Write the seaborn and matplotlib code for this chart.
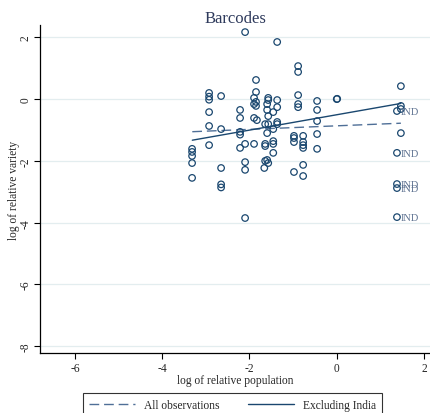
import matplotlib
matplotlib.use("Agg")
import matplotlib.pyplot as plt
import seaborn as sns
import pandas as pd

# ---- data ----
log_pop = [-2.10, -1.365, -0.885, -0.885, -1.85, -2.925,
           -2.925, -2.925, -2.65, -1.85, -1.895, -1.57,
           -1.57, -1.365, -0.885, -0.885, -0.885, -2.925,
           -2.215, -2.215, -1.895, -1.85, -1.85, -1.595,
           -1.595, -1.365, -1.455, -1.57, -1.895, -1.83,
           -1.365, -1.365, -1.64, -1.57, -2.925, -2.65,
           -2.215, -2.215, -1.455, -1.595, -0.98, -0.77,
           -3.315, -3.315, -3.315, -3.315, -3.315, -2.925,
           -2.65, -2.65, -2.65, -2.215, -2.10, -1.895,
           -2.10, -2.10, -2.10, -1.64, -1.64, -1.455,
           -1.455, -1.455, -1.64, -1.595, -1.57, -1.66,
           -0.98, -0.98, -0.77, -0.77, -0.77, -0.77,
           -0.98, -0.77, -0.45, -0.45, -0.45, -0.45,
           -0.45, 0.0, 0.01, 1.47, 1.47, 1.47,
           1.47]
log_var = [2.17, 1.85, 1.07, 0.88, 0.62, 0.20,
           0.08, -0.02, 0.10, 0.23, 0.04, 0.04,
           -0.03, -0.03, 0.13, -0.16, -0.26, -0.42,
           -0.35, -0.61, -0.16, -0.09, -0.22, -0.16,
           -0.35, -0.26, -0.42, -0.55, -0.61, -0.68,
           -0.74, -0.81, -0.81, -0.81, -0.87, -0.97,
           -1.06, -1.15, -0.97, -1.10, -1.19, -1.19,
           -1.61, -1.71, -1.84, -2.07, -2.55, -1.49,
           -2.23, -2.76, -2.86, -1.58, -1.45, -1.45,
           -2.04, -2.29, -3.85, -1.45, -1.52, -1.36,
           -1.45, -1.74, -2.00, -1.97, -2.07, -2.23,
           -1.26, -1.39, -1.39, -1.49, -1.58, -2.13,
           -2.36, -2.49, -0.06, -0.35, -0.71, -1.13,
           -1.61, 0.0, 0.01, 0.42, -0.22, -0.32,
           -1.10]

ind_pop = [1.38, 1.38, 1.38, 1.38, 1.38]
ind_var = [-0.385, -1.74, -2.75, -2.88, -3.82]
ind_label = "IND"

fit_x = [-3.31, 1.47]
fit_all = [-1.055, -0.78]
fit_excl = [-1.33, -0.14]

xticks = [-6, -4, -2, 0, 2]
yticks = [2, 0, -2, -4, -6, -8]

# ---- style ----
sns.set_style("white")
plt.rcParams['font.family'] = ['Liberation Serif', 'DejaVu Serif']

navy = "#1a476f"
dash_col = "#4f6f97"
lab_col = "#5d7190"
grid_col = "#e3edef"

fig = plt.figure(figsize=(4.31, 4.14), dpi=100)
ax = fig.add_axes([40/431, (414-354.3)/414, 391/431, 328.3/414])

df = pd.DataFrame({"x": log_pop + ind_pop, "y": log_var + ind_var})
sns.scatterplot(data=df, x="x", y="y", ax=ax, marker="o", s=22,
                facecolor="none", edgecolor=navy, linewidth=0.9, zorder=3)

for xv, yv in zip(ind_pop, ind_var):
    ax.annotate(ind_label, (xv, yv), xytext=(2.5, -0.5), textcoords="offset points",
                ha="left", va="center", fontsize=7.5, color=lab_col)

sns.lineplot(x=fit_x, y=fit_all, ax=ax, color=dash_col, linewidth=1.0,
             linestyle=(0, (7, 3.5)), label="All observations", legend=False)
sns.lineplot(x=fit_x, y=fit_excl, ax=ax, color=navy, linewidth=1.0,
             label="Excluding India", legend=False)

ax.set_xlim(-6.80, 2.16)
ax.set_ylim(-8.23, 2.40)
ax.set_xticks(xticks)
ax.set_yticks(yticks)
ax.set_xticklabels([str(t) for t in xticks], fontsize=8.3)
ax.set_yticklabels([str(t) for t in yticks], fontsize=8.3, rotation=90, va="center")
ax.tick_params(axis="both", direction="out", length=4, width=0.8, color="black", pad=2,
               bottom=True, left=True)
for t in yticks:
    ax.axhline(t, color=grid_col, linewidth=0.9, zorder=0)

for s in ["top", "right"]:
    ax.spines[s].set_visible(False)
for s in ["left", "bottom"]:
    ax.spines[s].set_color("black")
    ax.spines[s].set_linewidth(0.9)

ax.set_xlabel("log of relative population", fontsize=8.3, labelpad=0)
ax.set_ylabel("log of relative variety", fontsize=8.3, labelpad=0)
ax.set_title("Barcodes", fontsize=12, color="#2e3a5c", pad=2)

handles, labels = ax.get_legend_handles_labels()
leg = fig.legend(handles, labels, loc="upper center", bbox_to_anchor=(232.5/431, 1 - 394/414),
                 ncol=2, frameon=True, fancybox=False, edgecolor="black", fontsize=8.3,
                 handlelength=4.0, columnspacing=2.4, borderpad=0.55, handletextpad=0.8,
                 borderaxespad=0)
leg.get_frame().set_linewidth(0.8)

fig.savefig("out.png", dpi=100)
